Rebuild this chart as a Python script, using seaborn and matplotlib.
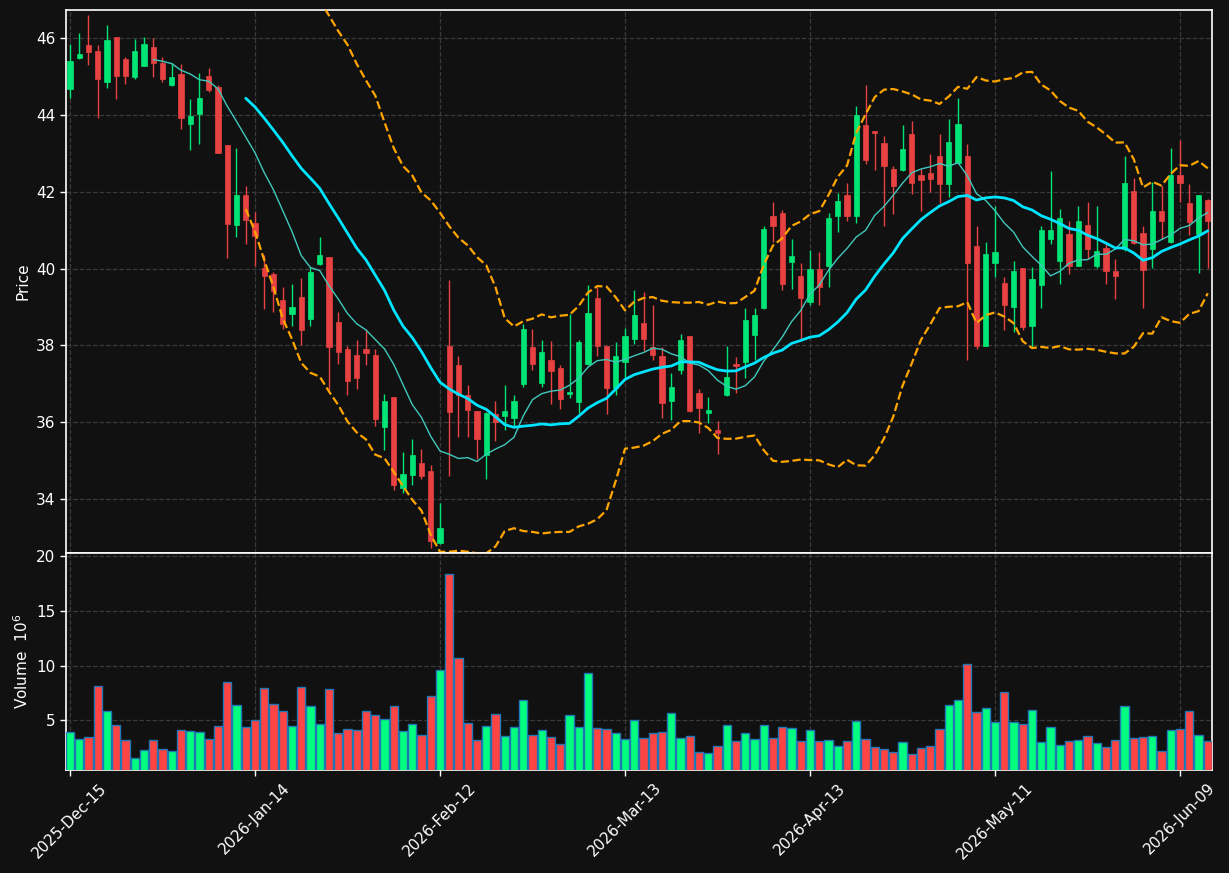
import numpy as np
import pandas as pd
import matplotlib
matplotlib.use("Agg")
import matplotlib.pyplot as plt
import seaborn as sns

# daily OHLC (one entry per trading day)
opens = [44.68, 45.47, 45.82, 45.66, 44.86, 46.03, 45.46, 44.98, 45.28, 45.77,
         45.34, 44.78, 45.07, 43.76, 44.01, 45.01, 44.73, 43.22, 41.14, 41.91,
         41.18, 40.01, 39.85, 39.18, 38.81, 39.25, 38.69, 40.11, 40.31, 38.62,
         37.92, 37.76, 37.92, 37.76, 35.89, 36.65, 34.30, 34.64, 34.95, 34.72,
         32.85, 37.99, 37.48, 36.72, 36.29, 35.16, 36.22, 36.16, 36.10, 36.99,
         37.97, 37.02, 37.61, 37.40, 36.73, 36.52, 37.52, 39.23, 37.99, 36.88,
         37.57, 38.17, 38.58, 37.97, 37.72, 36.55, 37.35, 38.24, 36.76, 36.25,
         35.79, 36.70, 37.52, 37.57, 38.27, 38.97, 41.36, 41.44, 40.17, 39.80,
         39.13, 39.98, 40.06, 41.38, 41.91, 41.36, 43.73, 43.57, 43.26, 42.60,
         42.56, 43.50, 42.43, 42.48, 42.93, 42.21, 42.75, 42.93, 40.58, 37.99,
         40.14, 39.62, 38.99, 40.01, 38.50, 39.58, 40.77, 40.20, 40.90, 40.08,
         41.14, 40.08, 40.53, 39.95, 40.51, 42.02, 40.92, 40.51, 41.50, 40.69,
         42.43, 41.70, 40.91, 41.79]
highs = [45.85, 46.13, 46.60, 45.81, 46.34, 46.03, 45.50, 45.97, 46.02, 45.99,
         45.51, 45.36, 45.33, 44.40, 45.08, 45.22, 44.77, 43.22, 43.15, 42.14,
         41.47, 40.36, 39.92, 39.53, 39.60, 39.76, 40.04, 40.82, 40.31, 38.88,
         37.98, 38.15, 38.44, 37.92, 36.74, 36.65, 35.22, 35.57, 35.30, 34.89,
         33.91, 39.71, 37.72, 36.97, 36.30, 36.28, 36.56, 36.97, 36.72, 38.56,
         38.44, 38.15, 38.12, 37.50, 38.82, 38.15, 39.56, 39.51, 37.99, 38.09,
         38.45, 39.44, 39.38, 39.06, 37.97, 37.29, 38.31, 38.25, 36.86, 36.67,
         36.03, 37.99, 37.71, 38.97, 38.97, 41.10, 41.72, 41.53, 40.77, 40.14,
         40.49, 40.44, 41.44, 41.97, 42.23, 44.23, 44.77, 43.58, 43.44, 42.68,
         43.74, 43.83, 42.59, 42.97, 43.50, 43.88, 44.45, 43.23, 41.10, 40.69,
         41.64, 39.78, 40.19, 40.02, 40.04, 41.11, 42.55, 41.54, 41.25, 41.62,
         41.72, 41.64, 40.63, 40.24, 42.93, 42.35, 41.10, 42.26, 42.15, 43.15,
         43.34, 42.20, 41.92, 41.80]
lows = [44.45, 45.45, 45.31, 43.91, 44.69, 44.42, 44.81, 44.94, 45.27, 44.99,
        44.86, 44.76, 43.62, 43.09, 43.23, 44.60, 43.00, 40.28, 40.82, 40.64,
        40.08, 38.95, 38.86, 38.42, 38.51, 38.01, 38.51, 40.09, 36.84, 37.52,
        36.70, 36.87, 37.50, 35.91, 35.28, 34.24, 34.16, 34.37, 34.53, 32.73,
        32.83, 34.61, 35.61, 35.61, 35.05, 34.53, 35.52, 35.79, 35.89, 36.93,
        37.35, 36.91, 36.47, 36.34, 36.64, 36.25, 37.50, 37.72, 36.22, 36.70,
        37.15, 38.05, 37.86, 37.61, 36.11, 36.06, 37.26, 36.28, 35.71, 35.98,
        35.17, 36.68, 36.76, 37.15, 37.63, 38.95, 40.68, 39.44, 39.46, 38.17,
        39.04, 39.06, 39.51, 40.96, 41.25, 41.19, 42.73, 42.57, 41.12, 41.41,
        42.54, 41.95, 41.50, 42.00, 41.70, 41.87, 42.74, 37.63, 37.90, 37.98,
        39.78, 38.40, 38.35, 38.40, 37.97, 38.98, 40.64, 39.60, 39.85, 40.06,
        40.24, 40.01, 39.60, 39.22, 40.46, 40.64, 38.97, 40.01, 40.77, 40.67,
        41.73, 40.87, 39.89, 40.01]
closes = [45.40, 45.59, 45.64, 44.94, 45.95, 45.01, 45.01, 45.66, 45.85, 45.36,
          44.94, 44.98, 43.91, 43.97, 44.44, 44.65, 43.02, 41.15, 41.91, 41.27,
          40.85, 39.80, 39.42, 38.56, 39.01, 38.40, 39.90, 40.36, 37.97, 37.82,
          37.07, 37.14, 37.80, 36.08, 36.56, 34.36, 34.66, 35.16, 34.61, 32.91,
          33.26, 36.28, 36.70, 36.31, 35.56, 36.25, 36.00, 36.29, 36.56, 38.44,
          37.51, 37.84, 37.34, 36.61, 36.80, 38.10, 38.85, 37.99, 36.88, 37.72,
          38.24, 38.79, 38.17, 37.76, 36.49, 36.93, 38.13, 36.29, 36.37, 36.31,
          35.71, 37.18, 37.46, 38.65, 38.79, 41.02, 41.11, 39.60, 40.34, 39.24,
          39.98, 39.53, 41.31, 41.75, 41.36, 44.00, 42.83, 43.53, 42.66, 42.15,
          43.11, 42.23, 42.30, 42.33, 42.19, 43.30, 43.76, 40.14, 37.99, 40.37,
          40.43, 39.04, 39.95, 38.47, 39.72, 41.00, 41.00, 41.31, 40.08, 41.24,
          40.51, 40.46, 39.94, 39.81, 42.23, 40.66, 39.96, 41.50, 41.24, 42.43,
          42.23, 41.20, 41.91, 41.24]
# volume in millions
volumes = [3.97, 3.27, 3.45, 8.10, 5.88, 4.55, 3.18, 1.53, 2.26, 3.18,
           2.35, 2.17, 4.09, 4.00, 3.91, 3.27, 4.45, 8.47, 6.37, 4.36,
           5.00, 7.92, 6.46, 5.82, 4.45, 8.01, 6.28, 4.64, 7.83, 3.81,
           4.18, 4.09, 5.82, 5.45, 5.09, 6.28, 4.00, 4.64, 3.63, 7.19,
           9.57, 18.42, 10.66, 4.73, 3.18, 4.45, 5.55, 3.54, 4.36, 6.83,
           3.63, 4.09, 3.45, 2.81, 5.46, 4.36, 9.29, 4.27, 4.18, 3.81,
           3.27, 5.00, 3.36, 3.81, 3.91, 5.64, 3.36, 3.54, 2.08, 1.99,
           2.63, 4.55, 3.09, 3.81, 3.27, 4.55, 3.36, 4.36, 4.27, 3.09,
           4.09, 3.09, 3.18, 2.63, 3.09, 4.91, 3.27, 2.54, 2.35, 2.08,
           3.00, 1.90, 2.45, 2.63, 4.18, 6.37, 6.83, 10.11, 5.73, 6.10,
           4.82, 7.56, 4.82, 4.64, 5.91, 3.00, 4.36, 2.72, 3.09, 3.18,
           3.54, 2.90, 2.54, 3.18, 6.28, 3.36, 3.45, 3.54, 2.17, 4.09,
           4.18, 5.82, 3.63, 3.09]
tick_labels = ["2025-Dec-15", "2026-Jan-14", "2026-Feb-12", "2026-Mar-13",
               "2026-Apr-13", "2026-May-11", "2026-Jun-09"]
tick_step = 20

df = pd.DataFrame({"Open": opens, "High": highs, "Low": lows,
                   "Close": closes, "Volume": volumes})
df["idx"] = np.arange(len(df))
df["MA10"] = df["Close"].rolling(10).mean()
df["MA20"] = df["Close"].rolling(20).mean()
std20 = df["Close"].rolling(20).std(ddof=0)
df["Upper"] = df["MA20"] + 2 * std20
df["Lower"] = df["MA20"] - 2 * std20

up = df["Close"] >= df["Open"]
candle_col = np.where(up, "#00e676", "#e84142")
vol_col = np.where(up, "#00ff80", "#ff4444")

bg = "#111111"
sns.set_theme(style="dark", rc={
    "figure.facecolor": bg, "axes.facecolor": bg, "savefig.facecolor": bg,
    "axes.edgecolor": "white", "axes.labelcolor": "white",
    "xtick.color": "white", "ytick.color": "white", "text.color": "white",
    "xtick.bottom": True, "ytick.left": True,
})
plt.rcParams["font.family"] = ["DejaVu Sans"]

fig = plt.figure(figsize=(12.29, 8.73), dpi=100)
ax = fig.add_axes([0.0537, 0.3666, 0.9325, 0.622])
axv = fig.add_axes([0.0537, 0.118, 0.9325, 0.2486], sharex=ax)

# candles
ax.vlines(df["idx"], df["Low"], df["High"], colors=candle_col, lw=1, zorder=2)
body = (df["Close"] - df["Open"]).abs().clip(lower=0.04)
ax.bar(df["idx"], body, bottom=df[["Open", "Close"]].min(axis=1),
       width=0.55, color=candle_col, edgecolor=candle_col, lw=0.5, zorder=3)

# moving averages and bollinger bands
sns.lineplot(x="idx", y="MA10", data=df, ax=ax, color="#40c8bc", lw=1, zorder=4, legend=False)
sns.lineplot(x="idx", y="MA20", data=df, ax=ax, color="#00e5ff", lw=2, zorder=5, legend=False)
sns.lineplot(x="idx", y="Upper", data=df, ax=ax, color="#ffa500", lw=1.6, ls="--", zorder=5, legend=False)
sns.lineplot(x="idx", y="Lower", data=df, ax=ax, color="#ffa500", lw=1.6, ls="--", zorder=5, legend=False)

# volume
axv.bar(df["idx"], df["Volume"], width=0.9, color=vol_col, edgecolor="#1f77b4", lw=1, zorder=3)

ticks = np.arange(0, len(df), tick_step)
for a in (ax, axv):
    a.grid(True, ls="--", color="#3a3a3a", lw=0.9)
    a.set_axisbelow(True)
    for s in a.spines.values():
        s.set_color("white")
        s.set_linewidth(1.2)
    a.tick_params(labelsize=11, length=4, width=1, colors="white")

ax.set_xlim(-0.43, 123.46)
ax.set_ylim(32.60, 46.73)
ax.set_yticks(np.arange(34, 47, 2))
ax.set_ylabel("Price", fontsize=11)
ax.set_xlabel("")
ax.tick_params(labelbottom=False)

axv.set_ylim(0.47, 20.3)
axv.set_yticks([5, 10, 15, 20])
axv.set_ylabel("Volume  $10^{6}$", fontsize=11)
axv.set_xticks(ticks)
axv.set_xticklabels(tick_labels, rotation=45, ha="center")

fig.savefig("out.png", dpi=100, facecolor=bg)
